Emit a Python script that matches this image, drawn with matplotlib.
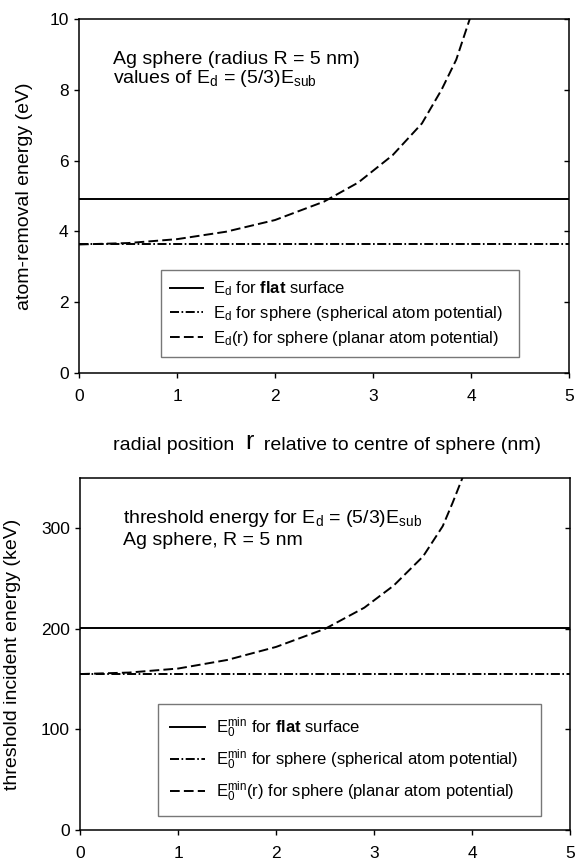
import matplotlib
matplotlib.use("Agg")
import matplotlib.pyplot as plt

plt.rcParams["font.family"] = ["Liberation Sans", "DejaVu Sans"]
plt.rcParams["mathtext.fontset"] = "custom"
plt.rcParams["mathtext.rm"] = "Liberation Sans"
plt.rcParams["mathtext.it"] = "Liberation Sans"
plt.rcParams["mathtext.bf"] = "Liberation Sans:bold"
plt.rcParams["lines.scale_dashes"] = False

# ---- data
r_span = [0.0, 5.0]

# top panel: atom-removal energy (eV)
Ed_flat = 4.92
Ed_sphere = 3.63
r_top = [0.0, 0.5, 1.0, 1.5, 2.0, 2.5, 2.85, 3.2, 3.5, 3.7, 3.85, 4.0]
Ed_r = [3.63, 3.67, 3.78, 3.99, 4.32, 4.84, 5.38, 6.15, 7.05, 8.0, 8.85, 10.1]

# bottom panel: threshold incident energy (keV)
E0_flat = 201.0
E0_sphere = 155.0
r_bot = [0.0, 0.5, 1.0, 1.5, 2.0, 2.5, 2.9, 3.2, 3.5, 3.7, 3.8, 3.95]
E0_r = [155.0, 156.5, 160.5, 169.0, 182.0, 200.0, 221.0, 243.0, 272.0, 302.0, 325.0, 362.0]

x_ticks = [0, 1, 2, 3, 4, 5]
top_yticks = [0, 2, 4, 6, 8, 10]
bot_yticks = [0, 100, 200, 300]

INK = "black"
LW = 1.4
DASH = (0, (7, 3))
DASHDOT = (0, (6.5, 1.8, 1.2, 1.8))

fig = plt.figure(figsize=(5.77, 8.65), dpi=100)
fig.patch.set_facecolor("white")
ax1 = fig.add_axes([0.137, 0.5688, 0.849, 0.4093])
ax2 = fig.add_axes([0.139, 0.0405, 0.849, 0.4070])


def style(ax, yticks, ylim):
    ax.set_xlim(0, 5)
    ax.set_ylim(*ylim)
    ax.set_xticks(x_ticks)
    ax.set_yticks(yticks)
    for s in ax.spines.values():
        s.set_linewidth(1.1)
    ax.tick_params(axis="both", direction="out", length=3.5, width=1.0,
                   labelsize=12.5)
    ax.tick_params(axis="x", pad=8)
    ax.tick_params(axis="y", pad=4)
    # mirrored inward ticks on the right
    tw = ax.twinx()
    tw.set_ylim(*ylim)
    tw.set_yticks(yticks)
    tw.tick_params(axis="y", direction="in", length=3.5, width=1.0,
                   labelright=False)
    for s in tw.spines.values():
        s.set_visible(False)


# ---------------------------------------------------------------- top panel
ax1.plot(r_span, [Ed_flat] * 2, color=INK, lw=LW, ls="-",
         label=r"E$_{\rm d}$ for $\mathbf{flat}$ surface")
ax1.plot(r_span, [Ed_sphere] * 2, color=INK, lw=LW, ls=DASHDOT,
         label=r"E$_{\rm d}$ for sphere (spherical atom potential)")
ax1.plot(r_top, Ed_r, color=INK, lw=LW, ls=DASH,
         label=r"E$_{\rm d}$(r) for sphere (planar atom potential)")
style(ax1, top_yticks, (0, 10))
ax1.set_ylabel("atom-removal energy (eV)", fontsize=14)
ax1.yaxis.set_label_coords(-0.094, 0.5)

ax1.text(0.07, 0.873, "Ag sphere (radius R = 5 nm)", transform=ax1.transAxes,
         fontsize=14, va="baseline", ha="left")
ax1.text(0.07, 0.819, r"values of E$_{\rm d}$ = (5/3)E$_{\rm sub}$",
         transform=ax1.transAxes, fontsize=14, va="baseline", ha="left")

leg1 = ax1.legend(loc="lower left", bbox_to_anchor=(0.167, 0.045, 0.731, 0.257),
                  mode="expand", fontsize=12, frameon=True, fancybox=False,
                  borderaxespad=0, borderpad=0.55, labelspacing=0.35,
                  handlelength=2.0, handletextpad=0.6)
leg1.get_frame().set_edgecolor("#555555")
leg1.get_frame().set_linewidth(1.0)

# x label with enlarged "r"
t1 = ax1.text(0.069, -0.23, "radial position  ", transform=ax1.transAxes,
              fontsize=14, ha="left", va="bottom")
t2 = ax1.annotate("r", xy=(1, 0), xycoords=t1, fontsize=18,
                  ha="left", va="bottom")
ax1.annotate("  relative to centre of sphere (nm)", xy=(1, 0), xycoords=t2,
             fontsize=14, ha="left", va="bottom")

# ------------------------------------------------------------- bottom panel
ax2.plot(r_span, [E0_flat] * 2, color=INK, lw=LW, ls="-",
         label=r"E$_{0}^{\rm min}$ for $\mathbf{flat}$ surface")
ax2.plot(r_span, [E0_sphere] * 2, color=INK, lw=LW, ls=DASHDOT,
         label=r"E$_{0}^{\rm min}$ for sphere (spherical atom potential)")
ax2.plot(r_bot, E0_r, color=INK, lw=LW, ls=DASH,
         label=r"E$_{0}^{\rm min}$(r) for sphere (planar atom potential)")
style(ax2, bot_yticks, (0, 350))
ax2.set_ylabel("threshold incident energy (keV)", fontsize=14)
ax2.yaxis.set_label_coords(-0.12, 0.5)

ax2.text(0.088, 0.872, r"threshold energy for E$_{\rm d}$ = (5/3)E$_{\rm sub}$",
         transform=ax2.transAxes, fontsize=14, va="baseline", ha="left")
ax2.text(0.088, 0.81, "Ag sphere, R = 5 nm", transform=ax2.transAxes,
         fontsize=14, va="baseline", ha="left")

leg2 = ax2.legend(loc="lower left", bbox_to_anchor=(0.159, 0.04, 0.782, 0.31),
                  mode="expand", fontsize=12, frameon=True, fancybox=False,
                  borderaxespad=0, borderpad=0.7, labelspacing=0.45,
                  handlelength=2.1, handletextpad=0.65)
leg2.get_frame().set_edgecolor("#555555")
leg2.get_frame().set_linewidth(1.0)

fig.savefig("out.png", dpi=100, facecolor="white")
